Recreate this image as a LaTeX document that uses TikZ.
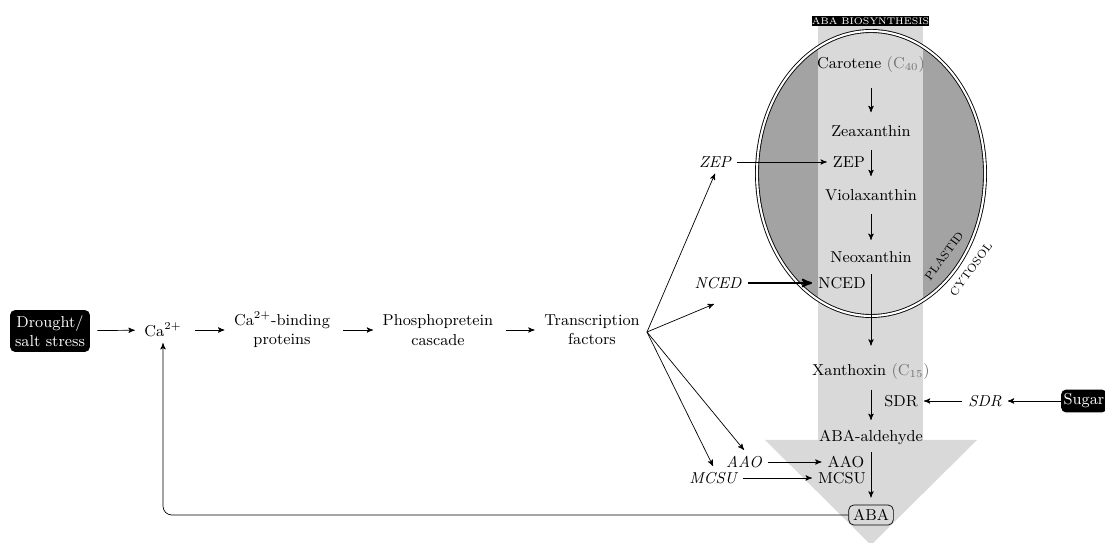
\documentclass[tikz,border=0pt]{standalone}
\usepackage{amsmath}
\usepackage{tikz}
\usetikzlibrary{calc}
\usetikzlibrary{arrows}
\definecolor{plastidgray}{gray}{0.64}
\definecolor{pathgray}{gray}{0.85}

\begin{document}
\begin{tikzpicture}[x=0.02cm, y=-0.02cm, font=\small,
  blackbox/.style={fill=black, text=white, rounded corners=3pt, align=center},
  gene/.style={font=\small\itshape},
  flow/.style={->, >=stealth'},
  down/.style={->, >=stealth', shorten <=2pt, shorten >=2pt},
  chain/.style={->, >=stealth', shorten <=4pt, shorten >=2pt},
  membrane/.style={font=\fontsize{6.5}{7}\selectfont, rotate=54}]
\useasboundingbox (0,0) rectangle (1105,543);

% plastid and pathway arrow
\fill[plastidgray] (871,173.5) ellipse [x radius=114, y radius=142.5];
\fill[pathgray] (818,26) rectangle (923,440);
\fill[pathgray] (765,440) -- (977,440) -- (871,545) -- cycle;
\draw[double, double distance=1.2pt, line width=0.5pt] (871,173.5) ellipse [x radius=114, y radius=142.5];
\node[fill=black, text=white, font=\fontsize{5.5}{6}\selectfont, minimum width=2.12cm, minimum height=0.2cm, inner sep=0pt] (title) at (870.5,21) {ABA BIOSYNTHESIS};
\node[membrane] (plastid) at (944,256) {PLASTID};
\node[membrane] (cytosol) at (971,269) {CYTOSOL};

% intermediates
\node (carotene) at (871,65) {Carotene {\color{black!55}(C$_{40}$)}};
\node (zea) at (871,131) {Zeaxanthin};
\node (viola) at (871,195) {Violaxanthin};
\node (neo) at (871,257) {Neoxanthin};
\node (xan) at (871,372) {Xanthoxin {\color{black!55}(C$_{15}$)}};
\node (ald) at (871,437) {ABA-aldehyde};
\node[draw, fill=pathgray, rounded corners=3pt, inner sep=2.5pt] (aba) at (871,515) {ABA};

% enzymes
\node (zepe) at (849,162) {ZEP};
\node (ncede) at (842,283) {NCED};
\node (sdre) at (901,401) {SDR};
\node (aaoe) at (846,462) {AAO};
\node (mcsue) at (842,478) {MCSU};

% genes
\node[gene] (zepg) at (715,162) {ZEP};
\node[gene] (ncedg) at (718,283) {NCED};
\node[gene] (sdrg) at (985,401) {SDR};
\node[gene] (aaog) at (744,462) {AAO};
\node[gene] (mcsug) at (713,478) {MCSU};
\node[blackbox, minimum width=0.92cm, minimum height=0.46cm, inner sep=1pt] (sugar) at (1084,401) {Sugar};

% signalling chain
\node[blackbox, minimum width=1.6cm, minimum height=0.84cm, inner sep=2pt] (stress) at (50,331) {Drought/\\salt stress};
\node (ca) at (163,330) {Ca$^{2+}$};
\node[align=center] (bind) at (282,330) {Ca$^{2+}$-binding\\proteins};
\node[align=center] (phos) at (438,330) {Phosphopretein\\cascade};
\node[align=center] (tf) at (592,330) {Transcription\\factors};

\coordinate (fan) at (647,332);
\coordinate (ncedtip) at (714,304);

\draw[chain] (stress) -- (ca);
\draw[chain] (ca) -- (bind);
\draw[chain] (bind) -- (phos);
\draw[chain] (phos) -- (tf);
\draw[flow] (fan) -- (zepg.south);
\draw[flow] (fan) -- (ncedtip);
\draw[flow] (fan) -- (aaog.north);
\draw[flow] (fan) -- (mcsug.north);

\draw[flow] (zepg) -- (zepe);
\draw[flow, line width=1.1pt] (ncedg) -- (ncede);
\draw[flow] (aaog) -- (aaoe);
\draw[flow] (mcsug) -- (mcsue);
\draw[flow] (sugar) -- (sdrg);
\draw[flow] (sdrg) -- (sdre);

\draw[down, shorten <=5pt, shorten >=4pt] (carotene) -- (zea);
\draw[down, shorten <=4pt, shorten >=4pt] (zea) -- (viola);
\draw[down, shorten <=4pt, shorten >=3pt] (viola) -- (neo);
\draw[down, shorten <=3pt, shorten >=7pt] (neo) -- (xan);
\draw[down] (xan) -- (ald);
\draw[down, shorten <=1pt, shorten >=4pt] (ald) -- (aba);

% feedback
\draw[flow, rounded corners=5pt] (aba.west) -| (ca.south);

\end{tikzpicture}
\end{document}
